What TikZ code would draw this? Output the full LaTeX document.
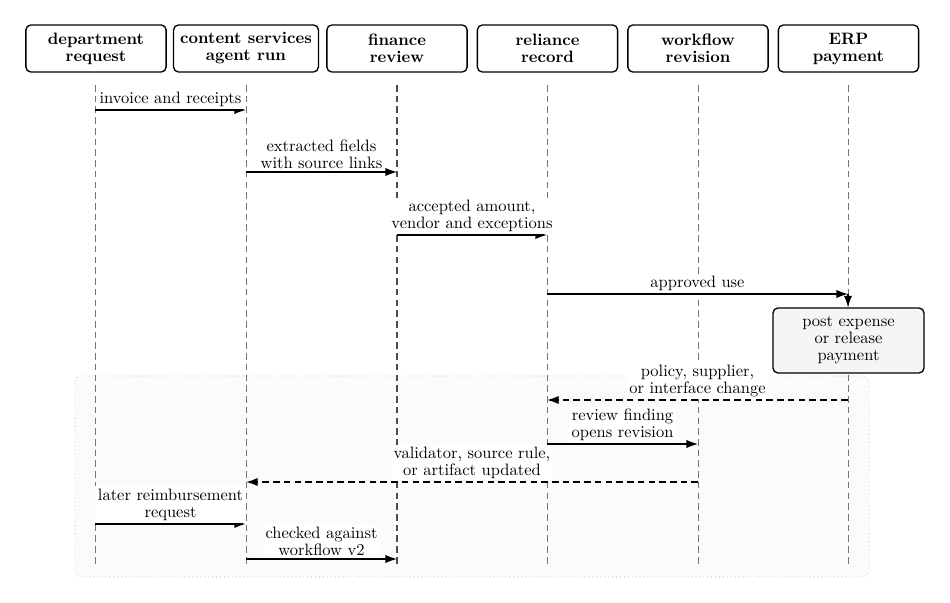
\documentclass[tikz,border=0pt]{standalone}
\usetikzlibrary{arrows.meta}
\begin{document}
\begin{tikzpicture}[x=0.606pt,y=-0.606pt,
  every node/.style={font=\fontsize{10}{10.3}\selectfont},
  actor/.style={draw,rounded corners=3pt,line width=0.8pt,font=\bfseries\fontsize{10}{10.3}\selectfont,align=center,minimum width=85pt,minimum height=28.5pt,inner xsep=4pt,inner ysep=2pt},
  life/.style={draw=black!55,dash pattern=on 4pt off 2.5pt,line width=0.5pt},
  msg/.style={draw,line width=0.75pt,-{Latex[length=7pt,width=5pt]}},
  thickmsg/.style={msg,line width=1.2pt},
  retmsg/.style={msg,line width=1pt,dash pattern=on 4pt off 2.5pt},
  lbl/.style={fill=white,align=center,inner sep=1.5pt},
  actbox/.style={draw,fill=black!4,rounded corners=3pt,line width=0.8pt,align=center,minimum width=91.5pt,minimum height=39.4pt}]
\useasboundingbox (0,0) rectangle (950,603);
% group frame
\draw[black!35,dotted,fill=black!1.5,rounded corners=4pt] (75,376) rectangle (869,577);
% actors
\node[actor] (a1) at (96,48.5) {department\\request};
\node[actor] (a2) at (246,48.5) {content services\\agent run};
\node[actor] (a3) at (397,48.5) {finance\\review};
\node[actor] (a4) at (547.5,48.5) {reliance\\record};
\node[actor] (a5) at (698,48.5) {workflow\\revision};
\node[actor] (a6) at (848.5,48.5) {ERP\\payment};
% lifelines
\foreach \i/\x in {1/95,2/246,4/547,5/698,6/848}{
  \coordinate (t\i) at (\x,85);
  \coordinate (b\i) at (\x,565);
  \draw[life] (t\i) -- (b\i);
}
\coordinate (t3) at (397,85);
\coordinate (b3) at (397,565);
\draw[life,draw=black!70,line width=1pt] (t3) -- (b3);
% message points
\coordinate (m1s) at (95,110);  \coordinate (m1e) at (246,110);
\coordinate (m2s) at (246,172); \coordinate (m2e) at (397,172);
\coordinate (m3s) at (397,235); \coordinate (m3e) at (547,235);
\coordinate (m4s) at (547,294); \coordinate (m4e) at (848,294);
\coordinate (m5s) at (848,400); \coordinate (m5e) at (547,400);
\coordinate (m6s) at (547,444); \coordinate (m6e) at (698,444);
\coordinate (m7s) at (698,482); \coordinate (m7e) at (246,482);
\coordinate (m8s) at (95,524);  \coordinate (m8e) at (246,524);
\coordinate (m9s) at (246,559); \coordinate (m9e) at (397,559);
% post box
\node[actbox] (post) at (848.5,340.5) {post expense\\or release\\payment};
% messages
\draw[msg] (m1s) -- node[lbl,above] {invoice and receipts} (m1e);
\draw[msg] (m2s) -- node[lbl,above] {extracted fields\\with source links} (m2e);
\draw[msg] (m3s) -- node[lbl,above] {accepted amount,\\vendor and exceptions} (m3e);
\draw[msg] (m4s) -- node[lbl,above] {approved use} (m4e);
\draw[msg] (m4e) -- (m4e |- post.north);
\draw[retmsg] (m5s) -- node[lbl,above] {policy, supplier,\\or interface change} (m5e);
\draw[msg] (m6s) -- node[lbl,above] {review finding\\opens revision} (m6e);
\draw[retmsg] (m7s) -- node[lbl,above] {validator, source rule,\\or artifact updated} (m7e);
\draw[thickmsg] (m8s) -- node[lbl,above] {later reimbursement\\request} (m8e);
\draw[msg] (m9s) -- node[lbl,above] {checked against\\workflow v2} (m9e);
\end{tikzpicture}
\end{document}
